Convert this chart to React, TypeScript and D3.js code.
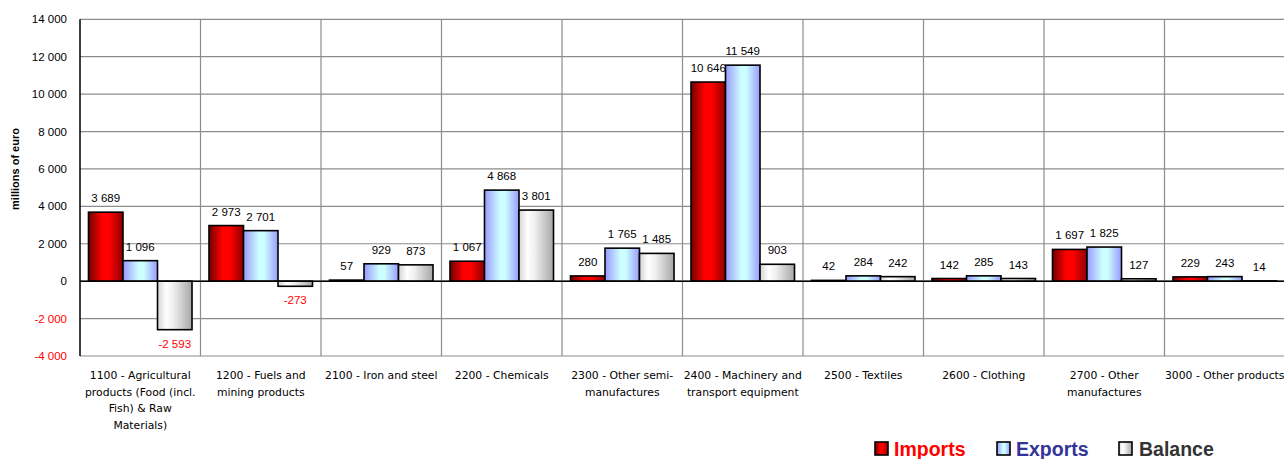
import React, { useEffect } from 'react';
import * as d3 from 'd3';

const categories = [
  '1100', '1200', '2100', '2200', '2300', '2400', '2500', '2600', '2700', '3000',
];
const categoryLabels: string[][] = [
  ['1100 - Agricultural', 'products (Food (incl.', 'Fish) & Raw', 'Materials)'],
  ['1200 - Fuels and', 'mining products'],
  ['2100 - Iron and steel'],
  ['2200 - Chemicals'],
  ['2300 - Other semi-', 'manufactures'],
  ['2400 - Machinery and', 'transport equipment'],
  ['2500 - Textiles'],
  ['2600 - Clothing'],
  ['2700 - Other', 'manufactures'],
  ['3000 - Other products'],
];
const imports = [3689, 2973, 57, 1067, 280, 10646, 42, 142, 1697, 229];
const exports_ = [1096, 2701, 929, 4868, 1765, 11549, 284, 285, 1825, 243];
const balance = [-2593, -273, 873, 3801, 1485, 903, 242, 143, 127, 14];
const seriesNames = ['Imports', 'Exports', 'Balance'];
const yTicks = [-4000, -2000, 0, 2000, 4000, 6000, 8000, 10000, 12000, 14000];

const W = 1284;
const H = 459;
const margin = { left: 80, right: 1285, top: 19.3, bottom: 356 };

const locale = d3.formatLocale({
  decimal: '.',
  thousands: ' ',
  grouping: [3],
  currency: ['', ''],
  minus: '-',
});
const fmt = locale.format(',d');

const gradients = [
  { id: 'gImp', stops: [['0%', '#700000'], ['40%', '#ff0000'], ['60%', '#ff0000'], ['100%', '#8c0000']] },
  { id: 'gExp', stops: [['0%', '#9999ff'], ['45%', '#ccffff'], ['60%', '#ccffff'], ['100%', '#9999ff']] },
  { id: 'gBal', stops: [['0%', '#d4d4d4'], ['25%', '#ffffff'], ['45%', '#f0f0f0'], ['100%', '#a6a6a6']] },
];
const legendColors = ['#ff0000', '#333399', '#333333'];

export default function App() {
  useEffect(() => {
    document.body.style.margin = '0';
  }, []);

  const x0 = d3.scaleBand<string>().domain(categories).range([margin.left, margin.right]).padding(0);
  const x1 = d3
    .scaleBand<string>()
    .domain(seriesNames)
    .range([0, x0.bandwidth()])
    .paddingInner(0)
    .paddingOuter(0.246);
  const y = d3.scaleLinear().domain([-4000, 14000]).range([margin.bottom, margin.top]);

  const series = [imports, exports_, balance];
  const font = 'Liberation Sans, Arial, sans-serif';

  return (
    <svg width={W} height={H} style={{ display: 'block', background: '#fff' }}>
      <defs>
        {gradients.map((g) => (
          <linearGradient key={g.id} id={g.id} x1="0" x2="1" y1="0" y2="0">
            {g.stops.map(([o, c]) => (
              <stop key={o} offset={o} stopColor={c} />
            ))}
          </linearGradient>
        ))}
      </defs>

      {/* horizontal gridlines */}
      {yTicks.map((t) => (
        <line
          key={'h' + t}
          x1={margin.left}
          x2={W}
          y1={y(t)}
          y2={y(t)}
          stroke="#8c8c8c"
          strokeWidth={1.2}
        />
      ))}
      {/* category dividers */}
      {categories.slice(1).map((c) => (
        <line
          key={'v' + c}
          x1={x0(c)}
          x2={x0(c)}
          y1={y(14000)}
          y2={y(-4000)}
          stroke="#8c8c8c"
          strokeWidth={1.2}
        />
      ))}

      {/* y tick labels */}
      {yTicks.map((t) => (
        <text
          key={'yt' + t}
          x={67}
          y={y(t) + 4}
          textAnchor="end"
          fontFamily={font}
          fontSize={11.5}
          fill={t < 0 ? '#ff0000' : '#000'}
        >
          {fmt(t)}
        </text>
      ))}
      <text
        transform={`translate(19,${169}) rotate(-90)`}
        textAnchor="middle"
        fontFamily={font}
        fontSize={11}
        fontWeight="bold"
      >
        millions of euro
      </text>

      {/* bars */}
      {categories.map((c, i) => (
        <g key={'b' + c} transform={`translate(${x0(c)},0)`}>
          {series.map((s, k) => {
            const v = s[i];
            const top = y(Math.max(0, v));
            const h = Math.abs(y(v) - y(0));
            return (
              <rect
                key={k}
                x={x1(seriesNames[k])}
                y={top}
                width={x1.bandwidth()}
                height={h}
                fill={`url(#${gradients[k].id})`}
                stroke="#000"
                strokeWidth={1.6}
              />
            );
          })}
        </g>
      ))}

      {/* zero line and left axis */}
      <line x1={margin.left} x2={W} y1={y(0)} y2={y(0)} stroke="#000" strokeWidth={1.5} />
      <line x1={margin.left} x2={margin.left} y1={y(14000)} y2={y(-4000)} stroke="#000" strokeWidth={1.5} />

      {/* value labels */}
      {categories.map((c, i) =>
        series.map((s, k) => {
          const v = s[i];
          const cx = (x0(c) as number) + (x1(seriesNames[k]) as number) + x1.bandwidth() / 2;
          const ty = v >= 0 ? y(v) - 10 : y(v) + 18;
          return (
            <text
              key={'l' + c + k}
              x={cx}
              y={ty}
              textAnchor="middle"
              fontFamily={font}
              fontSize={11.5}
              fill={v < 0 ? '#ff0000' : '#000'}
            >
              {fmt(v)}
            </text>
          );
        })
      )}

      {/* category labels */}
      {categories.map((c, i) => (
        <text
          key={'c' + c}
          x={(x0(c) as number) + x0.bandwidth() / 2}
          y={379}
          textAnchor="middle"
          fontFamily="DejaVu Sans, Verdana, sans-serif"
          fontSize={10.8}
          fill="#000"
        >
          {categoryLabels[i].map((ln, j) => (
            <tspan key={j} x={(x0(c) as number) + x0.bandwidth() / 2} dy={j === 0 ? 0 : 16.5}>
              {ln}
            </tspan>
          ))}
        </text>
      ))}

      {/* legend */}
      {[
        { sq: 875, tx: 894 },
        { sq: 997, tx: 1016 },
        { sq: 1119, tx: 1139 },
      ].map((p, k) => (
        <g key={'lg' + k}>
          <rect
            x={p.sq}
            y={442}
            width={13}
            height={13}
            fill={`url(#${gradients[k].id})`}
            stroke="#000"
            strokeWidth={1.6}
          />
          <text
            x={p.tx}
            y={456}
            fontFamily={font}
            fontSize={19.5}
            fontWeight="bold"
            fill={legendColors[k]}
          >
            {seriesNames[k]}
          </text>
        </g>
      ))}
    </svg>
  );
}
